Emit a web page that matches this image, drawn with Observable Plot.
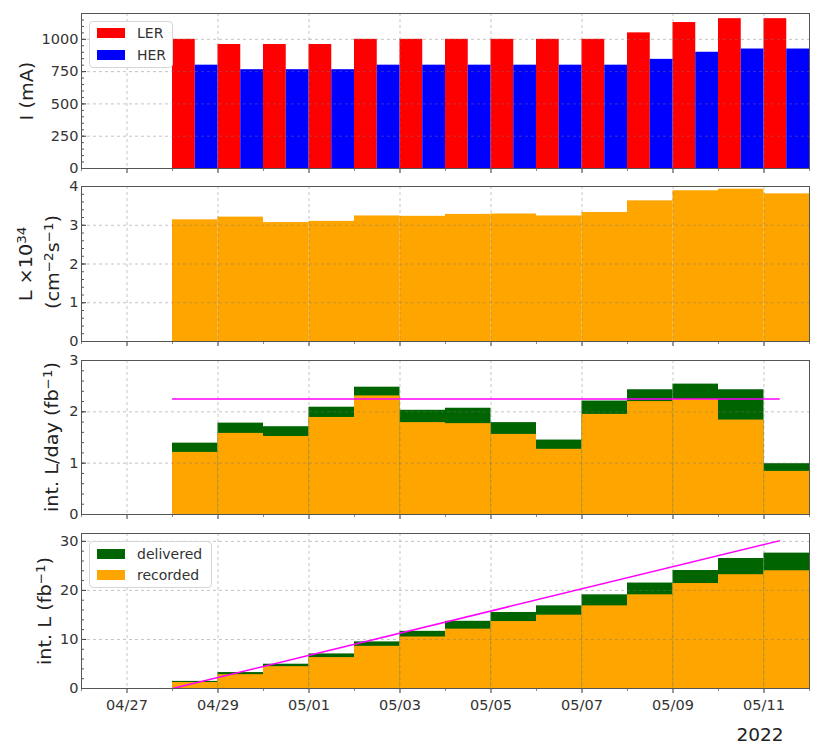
<!DOCTYPE html>
<html>
<head>
<meta charset="utf-8">
<script src="https://cdn.jsdelivr.net/npm/d3@7"></script>
<script src="https://cdn.jsdelivr.net/npm/@observablehq/plot@0.6"></script>
<style>
  body { margin: 0; background: #fff; font-family: "DejaVu Sans", sans-serif; }
  #chart { position: relative; width: 818px; height: 750px; overflow: hidden; }
  .panel { position: absolute; left: 0; }
  .ylab { position: absolute; transform: translate(-50%, -50%) rotate(-90deg) scaleX(1.07); white-space: nowrap; font-size: 18px; color: #222; line-height: 1; }
  .ylab sup { font-size: 0.7em; vertical-align: 0.5em; line-height: 0; }
  .legend { position: absolute; border: 1px solid #d6d6d6; border-radius: 4px; background: rgba(255,255,255,0.85); box-sizing: border-box; }
  .patch { position: absolute; width: 28px; height: 10px; }
  .ltext { position: absolute; font-size: 14px; color: #333; line-height: 1; transform: translateY(-50%); white-space: nowrap; }
  .year { position: absolute; font-size: 18.5px; color: #222; transform: translate(-50%, -50%); }
</style>
</head>
<body>
<div id="chart"></div>
<script>
// ---- data ----
const days = ["2022-04-28","2022-04-29","2022-04-30","2022-05-01","2022-05-02","2022-05-03","2022-05-04",
              "2022-05-05","2022-05-06","2022-05-07","2022-05-08","2022-05-09","2022-05-10","2022-05-11"];
const ler = [1000, 960, 960, 960, 1000, 1000, 1000, 1000, 1000, 1000, 1050, 1130, 1160, 1160];
const her = [800, 765, 765, 765, 800, 800, 800, 800, 800, 800, 845, 900, 925, 925];
const lumi = [3.14, 3.21, 3.07, 3.10, 3.24, 3.23, 3.28, 3.29, 3.24, 3.33, 3.63, 3.89, 3.93, 3.81];
const dailyDelivered = [1.39, 1.78, 1.71, 2.09, 2.48, 2.03, 2.07, 1.79, 1.45, 2.21, 2.43, 2.54, 2.43, 0.99];
const dailyRecorded  = [1.21, 1.58, 1.52, 1.89, 2.31, 1.79, 1.77, 1.56, 1.27, 1.95, 2.20, 2.24, 1.84, 0.84];
const cumDelivered = [1.45, 3.25, 4.95, 7.05, 9.5, 11.65, 13.7, 15.5, 16.85, 19.1, 21.5, 24.05, 26.5, 27.6];
const cumRecorded  = [1.22, 2.82, 4.45, 6.3, 8.6, 10.5, 12.1, 13.65, 14.95, 16.85, 19.1, 21.4, 23.2, 24.0];
const targetDates = ["2022-04-28T00:00Z", "2022-05-11T08:00Z"];
const targetDaily = [2.25, 2.25];
const targetCum = [0, 30.1];
const xDomain = ["2022-04-26", "2022-05-12"];
const majorDays = ["2022-04-27","2022-04-29","2022-05-01","2022-05-03","2022-05-05","2022-05-07","2022-05-09","2022-05-11"];
const minorDays = ["2022-04-26","2022-04-28","2022-04-30","2022-05-02","2022-05-04","2022-05-06","2022-05-08","2022-05-10","2022-05-12"];
const xTickLabels = ["04/27","04/29","05/01","05/03","05/05","05/07","05/09","05/11"];
const yearLabel = "2022";

// ---- tables ----
const rows = days.map((d, i) => {
  const start = new Date(d);
  return {
    start, mid: d3.utcHour.offset(start, 12), end: d3.utcDay.offset(start, 1),
    ler: ler[i], her: her[i], lumi: lumi[i],
    dd: dailyDelivered[i], dr: dailyRecorded[i],
    cd: cumDelivered[i], cr: cumRecorded[i]
  };
});
const target = targetDates.map((t, i) => ({t: new Date(t), daily: targetDaily[i], cum: targetCum[i]}));
const major = majorDays.map(d => new Date(d));
const minor = minorDays.map(d => new Date(d));
const labelOf = new Map(major.map((d, i) => [+d, xTickLabels[i]]));

const chart = document.getElementById("chart");
const blank = () => "";

function panel({top, height, marginTop, marginBottom, yDomain, yMajor, yMinor, marks, xLabels}) {
  const gridStyle = {stroke: "#777", strokeOpacity: 0.55, strokeDasharray: "3,3", strokeWidth: 0.8};
  const p = Plot.plot({
    width: 818, height,
    marginLeft: 81, marginRight: 9, marginTop, marginBottom,
    style: {fontFamily: "DejaVu Sans, sans-serif", color: "#333", background: "transparent", overflow: "visible"},
    x: {type: "utc", domain: xDomain.map(d => new Date(d)), label: null},
    y: {domain: yDomain, label: null},
    marks: [
      ...marks.bars,
      Plot.gridX(major, gridStyle),
      Plot.gridY(yMajor, gridStyle),
      ...(marks.lines || []),
      Plot.axisY(yMajor, {tickSize: -5, tickFormat: blank, label: null, stroke: "#333"}),
      Plot.axisY(yMinor, {tickSize: -3, tickFormat: blank, label: null, stroke: "#555"}),
      Plot.axisY(yMajor, {tickSize: 0, tickPadding: 3, fontSize: 14.5, label: null, tickFormat: d => String(d)}),
      Plot.axisX(major, {tickSize: 5, label: null, stroke: "#333", fontSize: 14.5, tickPadding: 6,
        tickFormat: xLabels ? (d => labelOf.get(+d)) : blank}),
      Plot.axisX(minor, {tickSize: 3, label: null, stroke: "#888", tickFormat: blank}),
      Plot.frame({stroke: "#555"})
    ]
  });
  p.classList.add("panel");
  p.style.top = top + "px";
  p.style.position = "absolute";
  chart.appendChild(p);
}

const range = (a, b, s) => d3.range(a, b + s / 2, s).map(v => +v.toFixed(4));

// Panel 1: beam currents
panel({
  top: 0, height: 176, marginTop: 13, marginBottom: 8,
  yDomain: [0, 1200], yMajor: [0, 250, 500, 750, 1000], yMinor: range(0, 1200, 50),
  marks: {bars: [
    Plot.rect(rows, {x1: "start", x2: "mid", y1: 0, y2: "ler", fill: "#ff0000"}),
    Plot.rect(rows, {x1: "mid", x2: "end", y1: 0, y2: "her", fill: "#0000ff"})
  ]}
});

// Panel 2: peak luminosity
panel({
  top: 176, height: 174, marginTop: 10, marginBottom: 9,
  yDomain: [0, 4], yMajor: [0, 1, 2, 3, 4], yMinor: range(0, 4, 0.2),
  marks: {bars: [
    Plot.rect(rows, {x1: "start", x2: "end", y1: 0, y2: "lumi", fill: "#ffa500"})
  ]}
});

// Panel 3: daily integrated luminosity
panel({
  top: 350, height: 173, marginTop: 10, marginBottom: 9,
  yDomain: [0, 3], yMajor: [0, 1, 2, 3], yMinor: range(0, 3, 0.2),
  marks: {
    bars: [
      Plot.rect(rows, {x1: "start", x2: "end", y1: 0, y2: "dd", fill: "#006400"}),
      Plot.rect(rows, {x1: "start", x2: "end", y1: 0, y2: "dr", fill: "#ffa500"})
    ],
    lines: [Plot.line(target, {x: "t", y: "daily", stroke: "#ff00ff", strokeWidth: 1.5})]
  }
});

// Panel 4: cumulative integrated luminosity
panel({
  top: 523, height: 227, marginTop: 10, marginBottom: 62,
  yDomain: [0, 31.6], yMajor: [0, 10, 20, 30], yMinor: range(0, 31, 2),
  xLabels: true,
  marks: {
    bars: [
      Plot.rect(rows, {x1: "start", x2: "end", y1: 0, y2: "cd", fill: "#006400"}),
      Plot.rect(rows, {x1: "start", x2: "end", y1: 0, y2: "cr", fill: "#ffa500"})
    ],
    lines: [Plot.line(target, {x: "t", y: "cum", stroke: "#ff00ff", strokeWidth: 1.5})]
  }
});

// ---- HTML labels & legends ----
function add(html) { chart.insertAdjacentHTML("beforeend", html); }
add(`<div class="ylab" style="left:27px;top:91px">I (mA)</div>`);
add(`<div class="ylab" style="left:26px;top:264px">L ×10<sup>34</sup></div>`);
add(`<div class="ylab" style="left:53px;top:262px">(cm<sup>−2</sup>s<sup>−1</sup>)</div>`);
add(`<div class="ylab" style="left:52px;top:437px">int. L/day (fb<sup>−1</sup>)</div>`);
add(`<div class="ylab" style="left:45px;top:611px">int. L (fb<sup>−1</sup>)</div>`);
add(`<div class="year" style="left:760px;top:734px">${yearLabel}</div>`);

add(`<div class="legend" style="left:89px;top:21px;width:84px;height:47px"></div>
<div class="patch" style="left:97px;top:28px;background:#ff0000"></div>
<div class="ltext" style="left:137px;top:33px">LER</div>
<div class="patch" style="left:97px;top:50px;background:#0000ff"></div>
<div class="ltext" style="left:137px;top:55px">HER</div>`);

add(`<div class="legend" style="left:89px;top:541px;width:123px;height:47px"></div>
<div class="patch" style="left:97px;top:549px;background:#006400"></div>
<div class="ltext" style="left:137px;top:554px">delivered</div>
<div class="patch" style="left:97px;top:570px;background:#ffa500"></div>
<div class="ltext" style="left:137px;top:575px">recorded</div>`);
</script>
</body>
</html>
